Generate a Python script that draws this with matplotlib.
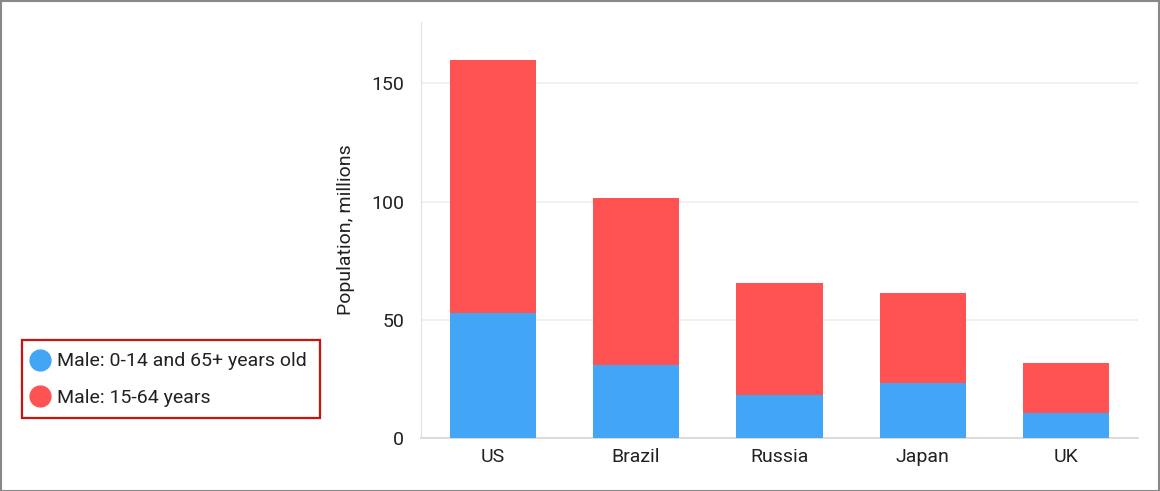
import matplotlib
matplotlib.use("Agg")
import matplotlib.pyplot as plt
from matplotlib.patches import Rectangle
from matplotlib.lines import Line2D

countries = ["US", "Brazil", "Russia", "Japan", "UK"]
male_young_old = [53.0, 31.0, 18.2, 23.3, 10.6]
male_working = [107.0, 70.7, 47.5, 38.1, 21.2]
series_names = ["Male: 0-14 and 65+ years old", "Male: 15-64 years"]
yticks = [0, 50, 100, 150]

blue = "#42A5F5"
red = "#FF5252"
text_color = "#212121"

plt.rcParams['font.family'] = ['Roboto', 'DejaVu Sans']

W, H = 1160, 491
fig = plt.figure(figsize=(W / 100, H / 100), dpi=100)
ax = fig.add_axes([421 / W, 1 - 438 / H, (1138 - 421) / W, (438 - 22) / H])

x = list(range(len(countries)))
ax.bar(x, male_young_old, width=0.6, color=blue, zorder=3)
ax.bar(x, male_working, width=0.6, bottom=male_young_old, color=red, zorder=3)

ax.set_xlim(-0.5, len(countries) - 0.5)
ax.set_ylim(0, 176)
ax.set_yticks(yticks)
ax.set_xticks(x)
ax.set_xticklabels(countries)
ax.tick_params(axis='both', length=0, labelsize=14, colors=text_color)
ax.tick_params(axis='y', pad=12)
ax.tick_params(axis='x', pad=7)
ax.yaxis.grid(True, color="#EEEEEE", linewidth=1.2, zorder=0)
ax.set_axisbelow(True)
for s in ["top", "right"]:
    ax.spines[s].set_visible(False)
ax.spines["left"].set_color("#E0E0E0")
ax.spines["bottom"].set_color("#D6D6D6")
ax.spines["bottom"].set_linewidth(1.2)
ax.set_ylabel("Population, millions", fontsize=14, color=text_color, labelpad=12)

handles = [Line2D([], [], marker='o', linestyle='none', markersize=15, color=c) for c in (blue, red)]
leg = fig.legend(handles, series_names, loc='center left',
                 bbox_to_anchor=(30 / W, 1 - 379.5 / H), frameon=False,
                 fontsize=14, handletextpad=0.4, handlelength=1.0,
                 borderpad=0, labelspacing=0.93, borderaxespad=0)
for t in leg.get_texts():
    t.set_color(text_color)

# legend frame
fig.patches.append(Rectangle((22 / W, 1 - 418 / H), (320 - 22) / W, (418 - 340) / H,
                             transform=fig.transFigure, fill=False,
                             edgecolor="#CC1111", linewidth=1.6))

fig.patches.append(Rectangle((0.5 / W, 0.5 / H), 1 - 1.5 / W, 1 - 1.5 / H, transform=fig.transFigure,
                             fill=False, edgecolor="#888888", linewidth=1.5))

fig.savefig("out.png", dpi=100, facecolor="white")
